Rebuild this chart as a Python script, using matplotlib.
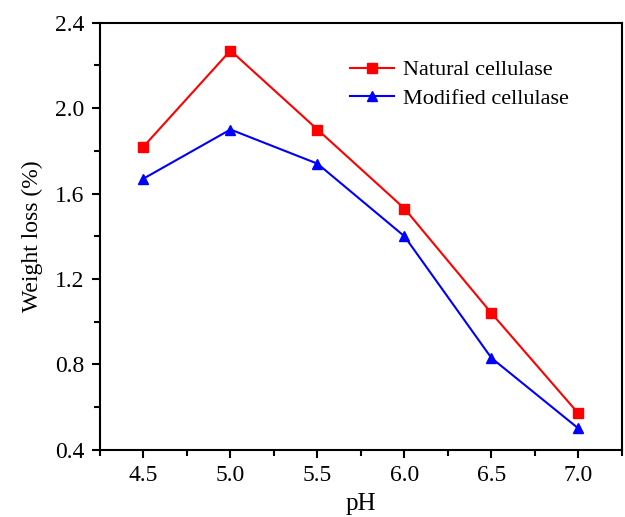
import matplotlib.pyplot as plt
from matplotlib.ticker import MultipleLocator

ph = [4.5, 5.0, 5.5, 6.0, 6.5, 7.0]
natural = [1.82, 2.27, 1.90, 1.53, 1.04, 0.57]
modified = [1.67, 1.90, 1.74, 1.40, 0.83, 0.50]

plt.rcParams['font.family'] = ['Liberation Serif', 'DejaVu Serif']

fig = plt.figure(figsize=(6.25, 5.17), dpi=100)
ax = fig.add_axes([0.16, 0.13, 0.835, 0.826])

ax.plot(ph, natural, color='#ff0000', marker='s', markersize=6.5, linewidth=1.5, label='Natural cellulase')
ax.plot(ph, modified, color='#0000ff', marker='^', markersize=7.5, linewidth=1.5, label='Modified cellulase')

ax.set_xlim(4.25, 7.25)
ax.set_ylim(0.4, 2.4)
ax.xaxis.set_major_locator(MultipleLocator(0.5))
ax.xaxis.set_minor_locator(MultipleLocator(0.25))
ax.yaxis.set_major_locator(MultipleLocator(0.4))
ax.yaxis.set_minor_locator(MultipleLocator(0.2))
ax.xaxis.set_major_formatter('{x:.1f}')
ax.yaxis.set_major_formatter('{x:.1f}')
ax.tick_params(which='both', direction='out', width=1.5, labelsize=17, top=False, right=False)
ax.tick_params(which='major', length=6, pad=5)
ax.tick_params(which='minor', length=4)
for s in ax.spines.values():
    s.set_linewidth(1.5)

ax.set_xlabel('pH', fontsize=18, labelpad=5)
ax.set_ylabel('Weight loss (%)', fontsize=17, labelpad=9)
ax.legend(loc='upper left', bbox_to_anchor=(0.44, 0.96), frameon=False, fontsize=16,
          handlelength=2.0, handletextpad=0.4, labelspacing=0.35)

plt.savefig('out.png', dpi=100)
